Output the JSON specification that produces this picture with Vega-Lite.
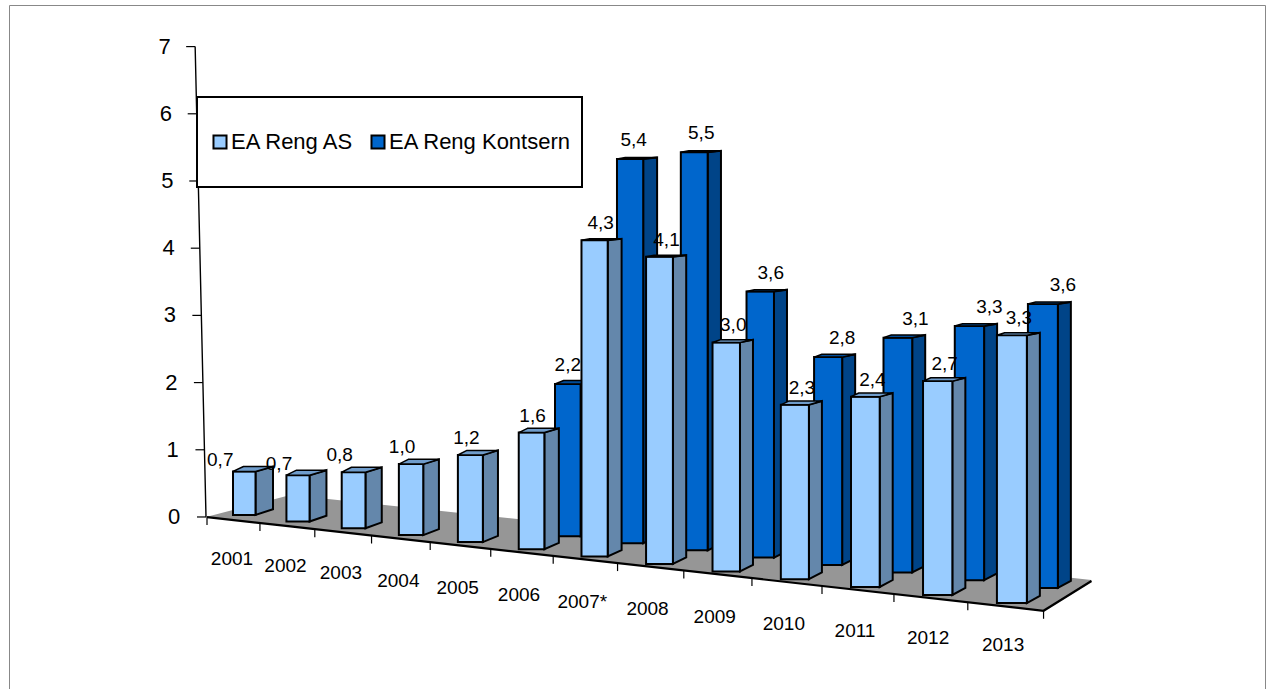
{
"$schema":"https://vega.github.io/schema/vega-lite/v6.json",
"width":1256,"height":684,
"autosize":{"type":"none"},
"padding":{"left":9,"top":5,"right":4,"bottom":0},
"background":"white",
"view":{"stroke":"#888888","strokeWidth":1},
"config":{"legend":{"strokeWidth":2}},
"datasets":{
"bars":[
{"year":"2001","series":"EA Reng AS","value":0.66},
{"year":"2002","series":"EA Reng AS","value":0.69},
{"year":"2003","series":"EA Reng AS","value":0.82},
{"year":"2004","series":"EA Reng AS","value":1.02},
{"year":"2005","series":"EA Reng AS","value":1.23},
{"year":"2006","series":"EA Reng AS","value":1.62},
{"year":"2007*","series":"EA Reng AS","value":4.32},
{"year":"2008","series":"EA Reng AS","value":4.13},
{"year":"2009","series":"EA Reng AS","value":3.03},
{"year":"2010","series":"EA Reng AS","value":2.27},
{"year":"2011","series":"EA Reng AS","value":2.44},
{"year":"2012","series":"EA Reng AS","value":2.70},
{"year":"2013","series":"EA Reng AS","value":3.33},
{"year":"2006","series":"EA Reng Kontsern","value":2.16},
{"year":"2007*","series":"EA Reng Kontsern","value":5.36},
{"year":"2008","series":"EA Reng Kontsern","value":5.46},
{"year":"2009","series":"EA Reng Kontsern","value":3.59},
{"year":"2010","series":"EA Reng Kontsern","value":2.76},
{"year":"2011","series":"EA Reng Kontsern","value":3.07},
{"year":"2012","series":"EA Reng Kontsern","value":3.27},
{"year":"2013","series":"EA Reng Kontsern","value":3.60}
],
"floor":[{"u":0},{"u":1.56},{"u":13},{"u":13.62}],
"ticks":[{"u":0},{"u":1},{"u":2},{"u":3},{"u":4},{"u":5},{"u":6},{"u":7},{"u":8},{"u":9},{"u":10},{"u":11},{"u":12},{"u":13}],
"wall":[{"v":0},{"v":1},{"v":2},{"v":3},{"v":4},{"v":5},{"v":6},{"v":7}]
},
"layer":[
{"data":{"name":"wall"},
 "transform":[
  {"calculate":"206-1.55*datum.v","as":"X"}
 ],
 "mark":{"type":"line","color":"black","strokeWidth":1.4},
 "encoding":{
  "x":{"field":"X","type":"quantitative","scale":{"domain":[9,1265],"nice":false,"zero":false},"axis":null},
  "y":{"field":"v","type":"quantitative","scale":{"domain":[-2.56,7.619],"nice":false,"zero":false},"axis":null}
 }},
{"data":{"name":"wall"},
 "transform":[
  {"calculate":"206-1.55*datum.v","as":"X"},
  {"calculate":"datum.X-9","as":"Xt"}
 ],
 "mark":{"type":"rule","color":"black","strokeWidth":1.2},
 "encoding":{
  "x":{"field":"Xt","type":"quantitative","scale":{"domain":[9,1265],"nice":false,"zero":false},"axis":null},
  "x2":{"field":"X"},
  "y":{"field":"v","type":"quantitative","scale":{"domain":[-2.56,7.619],"nice":false,"zero":false},"axis":null}
 }},
{"data":{"name":"wall"},
 "transform":[
  {"calculate":"174-1.35*datum.v","as":"Xl"}
 ],
 "mark":{"type":"text","font":"Liberation Sans","fontSize":22,"color":"black","baseline":"middle","align":"center"},
 "encoding":{
  "x":{"field":"Xl","type":"quantitative","scale":{"domain":[9,1265],"nice":false,"zero":false},"axis":null},
  "y":{"field":"v","type":"quantitative","scale":{"domain":[-2.56,7.619],"nice":false,"zero":false},"axis":null},
  "text":{"field":"v","type":"quantitative","format":"d"}
 }},
{"data":{"name":"floor"},
 "transform":[
  {"calculate":"207+52*datum.u+0.95*datum.u*datum.u","as":"X"},
  {"calculate":"datum.u<=13 ? (517-(517+0.112*(datum.X-206)))/67.2 : (517-(611-(datum.X-1045)*0.646))/67.2","as":"Yf"},
  {"calculate":"datum.u>=1.56 ? (517-(495+0.106*(datum.X-290)))/67.2 : (517-(517-(datum.X-206)*0.262))/67.2","as":"Yk"}
 ],
 "layer":[
  {"mark":{"type":"area","color":"#969696","stroke":null},
   "encoding":{
    "x":{"field":"X","type":"quantitative","scale":{"domain":[9,1265],"nice":false,"zero":false},"axis":null},
    "y":{"field":"Yk","type":"quantitative","stack":null,"scale":{"domain":[-2.56,7.619],"nice":false,"zero":false},"axis":null},
    "y2":{"field":"Yf"}
   }},
  {"mark":{"type":"line","color":"black","strokeWidth":2.2},
   "encoding":{
    "x":{"field":"X","type":"quantitative","scale":{"domain":[9,1265],"nice":false,"zero":false},"axis":null},
    "y":{"field":"Yf","type":"quantitative","scale":{"domain":[-2.56,7.619],"nice":false,"zero":false},"axis":null}
   }}
 ]},
{"data":{"name":"ticks"},
 "transform":[
  {"calculate":"207+52*datum.u+0.95*datum.u*datum.u","as":"X"},
  {"calculate":"(517-(517+0.112*(datum.X-206)))/67.2","as":"Yf"},
  {"calculate":"datum.Yf-8/67.2","as":"Yd"}
 ],
 "mark":{"type":"rule","color":"black","strokeWidth":1.2},
 "encoding":{
  "x":{"field":"X","type":"quantitative","scale":{"domain":[9,1265],"nice":false,"zero":false},"axis":null},
  "y":{"field":"Yf","type":"quantitative","scale":{"domain":[-2.56,7.619],"nice":false,"zero":false},"axis":null},
  "y2":{"field":"Yd"}
 }},
{"data":{"name":"bars"},
 "transform":[
  {"calculate":"toNumber(slice(datum.year,0,4))-2001","as":"i"},
  {"calculate":"datum.series==='EA Reng Kontsern'","as":"isK"},
  {"calculate":"233+52.5*datum.i+0.93*datum.i*datum.i+(datum.isK?40-0.75*datum.i:0)","as":"x0"},
  {"calculate":"datum.x0+22.5+0.62*datum.i","as":"x1"},
  {"calculate":"max(13,17.5-0.6*datum.i)","as":"dx"},
  {"calculate":"515+6.5*datum.i+0.07*datum.i*datum.i-(datum.isK?13+(datum.i-5)*0.3:0)","as":"pb"},
  {"calculate":"datum.pb-(datum.isK?64.5:66)*datum.value-1.2*datum.i*datum.value","as":"pt"},
  {"calculate":"(517-datum.pb)/67.2","as":"Yb"},
  {"calculate":"(517-datum.pt)/67.2","as":"Yt"},
  {"calculate":"0.0175*(datum.pb-190)/67.2","as":"riseB"},
  {"calculate":"max(1.5,0.0175*(datum.pt-190))/67.2","as":"riseT"},
  {"calculate":"(datum.x0+datum.x1)/2+(datum.isK?min(20,(datum.i-5)*3.5):min(7,-24+5*datum.i))","as":"lx"},
  {"calculate":"datum.Yt+(datum.isK?19:(datum.i<2?11:17))/67.2","as":"ly"},
  {"calculate":"replace(format(datum.value,'.1f'),'.',',')","as":"label"},
  {"calculate":"232+52.5*datum.i+0.98*datum.i*datum.i","as":"yearX"},
  {"calculate":"(517-(559+7.2*datum.i))/67.2","as":"yearY"},
  {"calculate":"0","as":"t0"},
  {"calculate":"1","as":"t1"},
  {"fold":["t0","t1"],"as":["tk","t"]},
  {"calculate":"datum.x1+datum.t*datum.dx","as":"sx"},
  {"calculate":"datum.Yt+datum.t*datum.riseT","as":"sTop"},
  {"calculate":"datum.Yb+datum.t*datum.riseB","as":"sBot"},
  {"calculate":"datum.x0+datum.t*datum.dx*0.6","as":"tL"}
 ],
 "layer":[
  {"transform":[{"filter":"datum.isK"}],
   "mark":{"type":"area","color":"#004488","stroke":"black","strokeWidth":2},
   "encoding":{
    "x":{"field":"sx","type":"quantitative","scale":{"domain":[9,1265],"nice":false,"zero":false},"axis":null},
    "y":{"field":"sTop","type":"quantitative","stack":null,"scale":{"domain":[-2.56,7.619],"nice":false,"zero":false},"axis":null},
    "y2":{"field":"sBot"},
    "detail":{"field":"year"}
   }},
  {"transform":[{"filter":"datum.isK && datum.t==0"}],
   "mark":{"type":"rect","stroke":"black","strokeWidth":2},
   "encoding":{
    "x":{"field":"x0","type":"quantitative","scale":{"domain":[9,1265],"nice":false,"zero":false},"axis":null},
    "x2":{"field":"x1"},
    "y":{"field":"Yt","type":"quantitative","scale":{"domain":[-2.56,7.619],"nice":false,"zero":false},"axis":null},
    "y2":{"field":"Yb"},
    "color":{"field":"series","type":"nominal","scale":{"domain":["EA Reng AS","EA Reng Kontsern"],"range":["#99CCFF","#0066CC"]},
     "legend":{"title":null,"orient":"none","legendX":188,"legendY":92,"direction":"horizontal","fillColor":"white","strokeColor":"black","padding":10,"clipHeight":70,"symbolType":"square","symbolSize":170,"symbolStrokeColor":"black","symbolStrokeWidth":2,"symbolOffset":2,"labelFont":"Liberation Sans","labelFontSize":22,"labelLimit":300,"labelColor":"black","labelOffset":0,"columnPadding":10}}
   }},
  {"transform":[{"filter":"datum.isK"}],
   "mark":{"type":"area","orient":"horizontal","color":"#004C99","stroke":"black","strokeWidth":1.5},
   "encoding":{
    "y":{"field":"sTop","type":"quantitative","scale":{"domain":[-2.56,7.619],"nice":false,"zero":false},"axis":null},
    "x":{"field":"tL","type":"quantitative","stack":null,"scale":{"domain":[9,1265],"nice":false,"zero":false},"axis":null},
    "x2":{"field":"sx"},
    "detail":{"field":"year"}
   }},
  {"transform":[{"filter":"!datum.isK"}],
   "mark":{"type":"area","color":"#6487AB","stroke":"black","strokeWidth":2},
   "encoding":{
    "x":{"field":"sx","type":"quantitative","scale":{"domain":[9,1265],"nice":false,"zero":false},"axis":null},
    "y":{"field":"sTop","type":"quantitative","stack":null,"scale":{"domain":[-2.56,7.619],"nice":false,"zero":false},"axis":null},
    "y2":{"field":"sBot"},
    "detail":{"field":"year"}
   }},
  {"transform":[{"filter":"!datum.isK && datum.t==0"}],
   "mark":{"type":"rect","stroke":"black","strokeWidth":2},
   "encoding":{
    "x":{"field":"x0","type":"quantitative","scale":{"domain":[9,1265],"nice":false,"zero":false},"axis":null},
    "x2":{"field":"x1"},
    "y":{"field":"Yt","type":"quantitative","scale":{"domain":[-2.56,7.619],"nice":false,"zero":false},"axis":null},
    "y2":{"field":"Yb"},
    "color":{"field":"series","type":"nominal","scale":{"domain":["EA Reng AS","EA Reng Kontsern"],"range":["#99CCFF","#0066CC"]},
     "legend":{"title":null,"orient":"none","legendX":188,"legendY":92,"direction":"horizontal","fillColor":"white","strokeColor":"black","padding":10,"clipHeight":70,"symbolType":"square","symbolSize":170,"symbolStrokeColor":"black","symbolStrokeWidth":2,"symbolOffset":2,"labelFont":"Liberation Sans","labelFontSize":22,"labelLimit":300,"labelColor":"black","labelOffset":0,"columnPadding":10}}
   }},
  {"transform":[{"filter":"!datum.isK"}],
   "mark":{"type":"area","orient":"horizontal","color":"#6F9CCB","stroke":"black","strokeWidth":1.5},
   "encoding":{
    "y":{"field":"sTop","type":"quantitative","scale":{"domain":[-2.56,7.619],"nice":false,"zero":false},"axis":null},
    "x":{"field":"tL","type":"quantitative","stack":null,"scale":{"domain":[9,1265],"nice":false,"zero":false},"axis":null},
    "x2":{"field":"sx"},
    "detail":{"field":"year"}
   }},
  {"transform":[{"filter":"datum.t==0"}],
   "mark":{"type":"text","font":"Liberation Sans","fontSize":19,"color":"black","baseline":"middle","align":"center"},
   "encoding":{
    "x":{"field":"lx","type":"quantitative","scale":{"domain":[9,1265],"nice":false,"zero":false},"axis":null},
    "y":{"field":"ly","type":"quantitative","scale":{"domain":[-2.56,7.619],"nice":false,"zero":false},"axis":null},
    "text":{"field":"label"}
   }},
  {"transform":[{"filter":"!datum.isK && datum.t==0"}],
   "mark":{"type":"text","font":"Liberation Sans","fontSize":19,"color":"black","baseline":"middle","align":"center"},
   "encoding":{
    "x":{"field":"yearX","type":"quantitative","scale":{"domain":[9,1265],"nice":false,"zero":false},"axis":null},
    "y":{"field":"yearY","type":"quantitative","scale":{"domain":[-2.56,7.619],"nice":false,"zero":false},"axis":null},
    "text":{"field":"year"}
   }}
 ]}
]
}
